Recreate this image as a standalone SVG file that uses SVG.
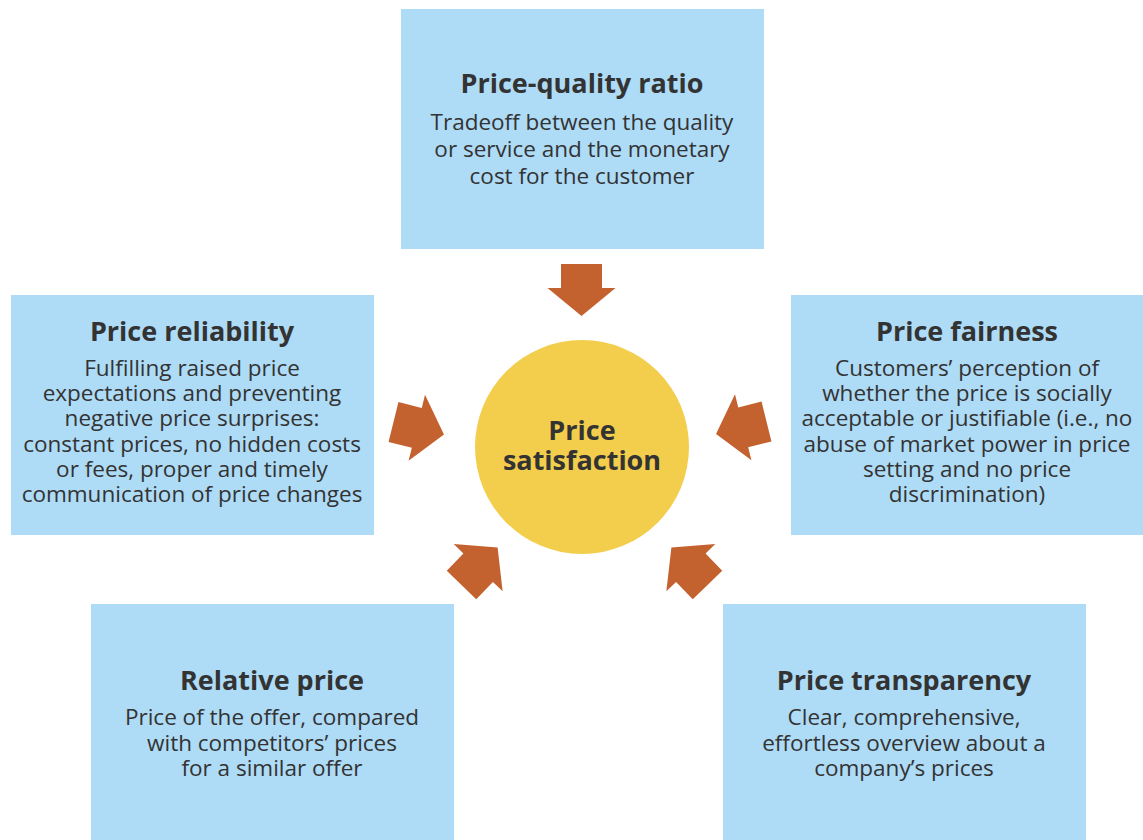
<svg xmlns="http://www.w3.org/2000/svg" width="1143" height="840" viewBox="0 0 1143 840">
<style>
.box{fill:#AEDBF6}
.hub{fill:#F3CD4C}
.arr{fill:#C4622F}
.t{font-family:"Open Sans","Noto Sans","Liberation Sans",sans-serif;font-weight:700;font-size:27px;fill:#333333;text-anchor:middle}
.b{font-family:"Open Sans","Noto Sans","Liberation Sans",sans-serif;font-size:22.5px;fill:#333333;text-anchor:middle}
</style>
<defs>
<polygon id="arrow" points="0,-20.5 24,-20.5 24,-34 52,0 24,34 24,20.5 0,20.5"/>
</defs>
<rect width="1143" height="840" fill="#ffffff"/>
<g id="node-price-quality">
<rect class="box" x="401" y="9" width="363" height="240"/>
<text class="t" x="582" y="93">Price-quality ratio</text>
<text class="b" x="582" y="130">Tradeoff between the quality</text>
<text class="b" x="582" y="157">or service and the monetary</text>
<text class="b" x="582" y="184">cost for the customer</text>
</g>
<g id="node-price-reliability">
<rect class="box" x="11" y="295" width="363" height="240"/>
<text class="t" x="192" y="341">Price reliability</text>
<text class="b" x="192" y="376">Fulfilling raised price</text>
<text class="b" x="192" y="401">expectations and preventing</text>
<text class="b" x="192" y="426">negative price surprises:</text>
<text class="b" x="192" y="452">constant prices, no hidden costs</text>
<text class="b" x="192" y="477">or fees, proper and timely</text>
<text class="b" x="192" y="502">communication of price changes</text>
</g>
<g id="node-price-fairness">
<rect class="box" x="791" y="295" width="352" height="240"/>
<text class="t" x="967" y="341">Price fairness</text>
<text class="b" x="967" y="376">Customers’ perception of</text>
<text class="b" x="967" y="401">whether the price is socially</text>
<text class="b" x="967" y="426">acceptable or justifiable (i.e., no</text>
<text class="b" x="967" y="452">abuse of market power in price</text>
<text class="b" x="967" y="477">setting and no price</text>
<text class="b" x="967" y="502">discrimination)</text>
</g>
<g id="node-relative-price">
<rect class="box" x="91" y="604" width="363" height="236"/>
<text class="t" x="272" y="690">Relative price</text>
<text class="b" x="272" y="725">Price of the offer, compared</text>
<text class="b" x="272" y="751">with competitors’ prices</text>
<text class="b" x="272" y="776">for a similar offer</text>
</g>
<g id="node-price-transparency">
<rect class="box" x="723" y="604" width="363" height="236"/>
<text class="t" x="904" y="690">Price transparency</text>
<text class="b" x="904" y="725">Clear, comprehensive,</text>
<text class="b" x="904" y="751">effortless overview about a</text>
<text class="b" x="904" y="776">company’s prices</text>
</g>
<g id="node-price-satisfaction">
<circle class="hub" cx="582" cy="447" r="107"/>
<text class="t" x="582" y="440">Price</text>
<text class="t" x="582" y="470">satisfaction</text>
</g>
<g id="connectors" class="arr">
<use href="#arrow" transform="translate(581.5,264) rotate(90)"/>
<use href="#arrow" transform="translate(393.5,422) rotate(14)"/>
<use href="#arrow" transform="translate(766.5,421.5) rotate(166)"/>
<use href="#arrow" transform="translate(461.5,585) rotate(-46)"/>
<use href="#arrow" transform="translate(707.5,585) rotate(-134)"/>
</g>
</svg>
